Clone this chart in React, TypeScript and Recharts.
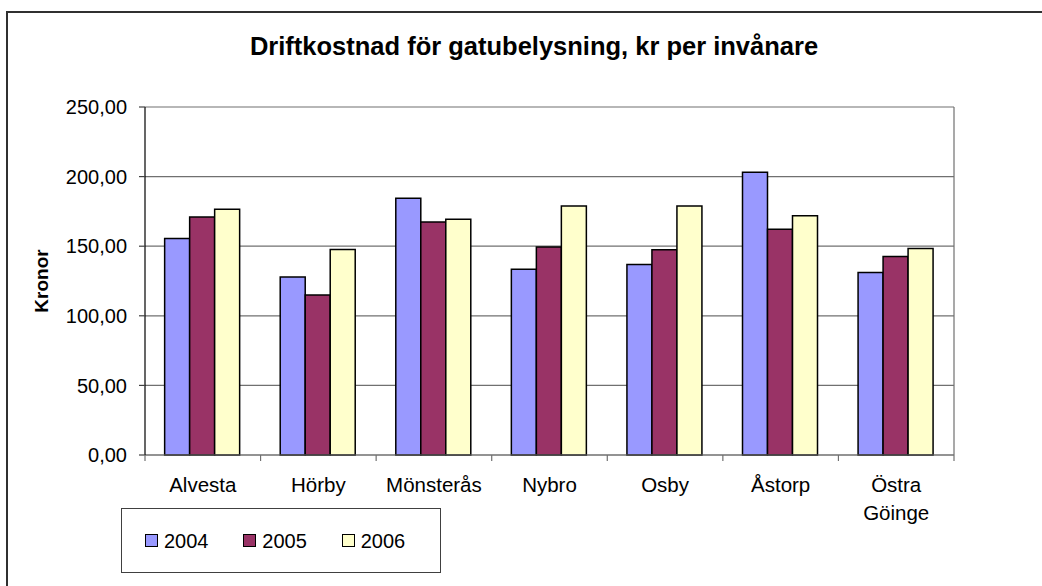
import React from 'react';
import { BarChart, Bar, XAxis, YAxis, CartesianGrid, Legend } from 'recharts';

const categories = ['Alvesta', 'Hörby', 'Mönsterås', 'Nybro', 'Osby', 'Åstorp', 'Östra Göinge'];
const v2004 = [155.6, 127.8, 184.5, 133.5, 136.9, 203.2, 131.1];
const v2005 = [170.9, 114.9, 167.3, 149.5, 147.4, 162.2, 142.6];
const v2006 = [176.6, 147.7, 169.4, 178.8, 178.8, 171.8, 148.4];
const yTicks = [0, 50, 100, 150, 200, 250];
const seriesNames = ['2004', '2005', '2006'];
const seriesColors = ['#9999FF', '#993366', '#FFFFCC'];

const data = categories.map((c, i) => ({ name: c, s2004: v2004[i], s2005: v2005[i], s2006: v2006[i] }));

const FONT = "'Liberation Sans', Arial, sans-serif";

const fmt = (v: number) => v.toFixed(2).replace('.', ',');

const CatTick = (props: any) => {
  const { x, y, payload, index, visibleTicksCount, width } = props;
  const half = width / visibleTicksCount / 2;
  const words = String(payload.value).split(' ');
  return (
    <g>
      <line x1={x - half} x2={x - half} y1={y - 6} y2={y} stroke="#707070" strokeWidth={1.2} />
      {index === visibleTicksCount - 1 && (
        <line x1={x + half} x2={x + half} y1={y - 6} y2={y} stroke="#707070" strokeWidth={1.2} />
      )}
      <text x={x} y={y} textAnchor="middle" fontSize={20.5} fill="#000" fontFamily={FONT}>
        {words.map((w, i) => (
          <tspan key={i} x={x} dy={i === 0 ? 30.5 : 28}>{w}</tspan>
        ))}
      </text>
    </g>
  );
};

const LegendBox = (props: any) => {
  const { payload } = props;
  return (
    <div style={{ width: 320, height: 65, border: '1px solid #404040', boxSizing: 'border-box', display: 'flex', alignItems: 'center', paddingLeft: 23, background: '#fff', fontFamily: FONT }}>
      {(payload || []).map((p: any, i: number) => (
        <div key={i} style={{ display: 'flex', alignItems: 'center', width: 107 }}>
          <span style={{ display: 'inline-block', width: 13, height: 13, background: p.color, border: '1.5px solid #000', boxSizing: 'border-box', marginRight: 6 }} />
          <span style={{ fontSize: 20, color: '#000', lineHeight: '20px' }}>{p.value}</span>
        </div>
      ))}
    </div>
  );
};

export default function App() {
  return (
    <div style={{ position: 'absolute', left: 0, top: 0, width: 1042, height: 586, background: '#fff', fontFamily: FONT, overflow: 'hidden' }}>
      <BarChart
        width={1042}
        height={586}
        data={data}
        margin={{ top: 107, right: 88, bottom: 61, left: 0 }}
        barCategoryGap="17%"
        barGap={0}
      >
        <CartesianGrid
          stroke="#707070"
          strokeWidth={1.2}
          horizontal={true}
          vertical={true}
          verticalCoordinatesGenerator={({ offset }: any) => [offset.left + offset.width]}
        />
        <XAxis
          dataKey="name"
          height={70}
          tickLine={false}
          tickSize={6}
          tickMargin={0}
          axisLine={{ stroke: '#707070', strokeWidth: 1.2 }}
          tick={<CatTick />}
          interval={0}
        />
        <YAxis
          width={145}
          domain={[0, 250]}
          ticks={yTicks}
          tickFormatter={fmt}
          tickSize={6}
          tickMargin={12}
          axisLine={{ stroke: '#000', strokeWidth: 1.2 }}
          tickLine={{ stroke: '#404040', strokeWidth: 1.2 }}
          tick={{ fontSize: 20, fill: '#000', fontFamily: FONT }}
          interval={0}
        />
        <Legend
          layout="horizontal"
          verticalAlign="middle"
          align="center"
          content={<LegendBox />}
          wrapperStyle={{ position: 'absolute', left: 121, top: 508, width: 320, height: 65 }}
        />
        <Bar dataKey="s2004" name={seriesNames[0]} fill={seriesColors[0]} stroke="#000" strokeWidth={1.5} isAnimationActive={false} />
        <Bar dataKey="s2005" name={seriesNames[1]} fill={seriesColors[1]} stroke="#000" strokeWidth={1.5} isAnimationActive={false} />
        <Bar dataKey="s2006" name={seriesNames[2]} fill={seriesColors[2]} stroke="#000" strokeWidth={1.5} isAnimationActive={false} />
      </BarChart>
      <div style={{ position: 'absolute', left: 6, top: 11, width: 1100, height: 700, borderTop: '2px solid #303030', borderLeft: '2px solid #303030', pointerEvents: 'none' }} />
      <svg width={1042} height={586} style={{ position: 'absolute', left: 0, top: 0, pointerEvents: 'none' }}>
        <text x={534} y={55} textAnchor="middle" fontSize={25.5} fontWeight="bold" fill="#000" fontFamily={FONT}>
          Driftkostnad för gatubelysning, kr per invånare
        </text>
        <text x={48} y={281} transform="rotate(-90 48 281)" textAnchor="middle" fontSize={19} fontWeight="bold" fill="#000" fontFamily={FONT}>
          Kronor
        </text>
      </svg>
    </div>
  );
}
